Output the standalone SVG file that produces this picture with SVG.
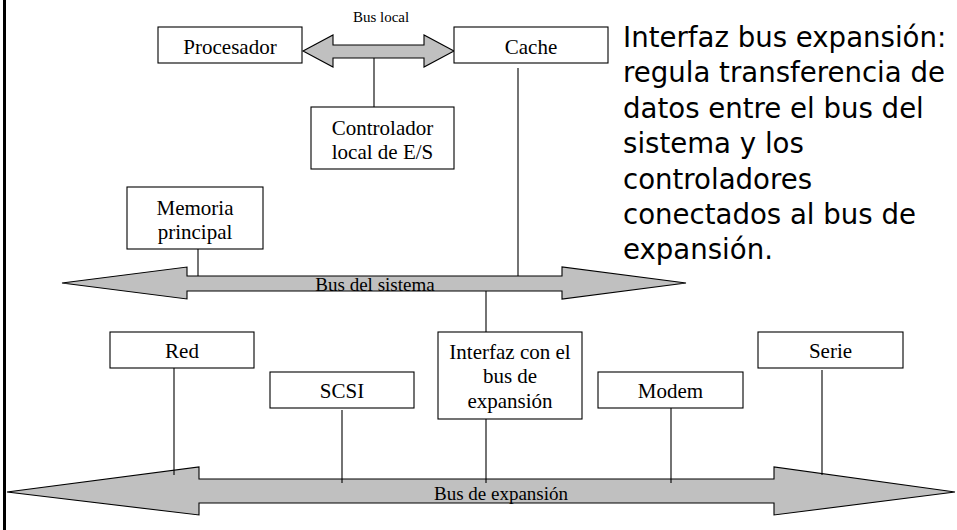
<svg xmlns="http://www.w3.org/2000/svg" width="957" height="530" viewBox="0 0 957 530">
  <style>
    .box { fill: #ffffff; stroke: #000000; stroke-width: 1.1; }
    .bus { fill: #c0c0c0; stroke: #000000; stroke-width: 1.1; stroke-linejoin: miter; }
    .wire { stroke: #000000; stroke-width: 1.1; fill: none; }
    .lbl { font-family: "Liberation Serif", "Times New Roman", serif; font-size: 21px; fill: #000000; text-anchor: middle; }
    .buslbl { font-family: "Liberation Serif", "Times New Roman", serif; font-size: 19px; fill: #000000; text-anchor: middle; }
    .note { font-family: "DejaVu Sans", Verdana, sans-serif; font-size: 27.6px; fill: #000000; }
  </style>

  <rect width="957" height="530" fill="#ffffff"/>
  <!-- frame edge on the left -->
  <rect x="3" y="0" width="3" height="530" fill="#000000"/>

  <!-- buses -->
  <g id="bus-local">
    <polygon class="bus" points="303,51 333,35 333,45 424,45 424,35 454,51 424,67 424,58 333,58 333,67"/>
    <text x="381" y="22" font-family="Liberation Serif, Times New Roman, serif" font-size="15" text-anchor="middle">Bus local</text>
  </g>
  <g id="bus-sistema">
    <polygon class="bus" points="62,283 187,267 187,276 562,276 562,267 686,283 562,299 562,291 187,291 187,299"/>
    <text class="buslbl" x="375" y="291">Bus del sistema</text>
  </g>
  <g id="bus-expansion">
    <polygon class="bus" points="7,492 199,467 199,479 774,479 774,467 955,492 774,515 774,503 199,503 199,515"/>
    <text class="buslbl" x="501" y="500">Bus de expansión</text>
  </g>

  <!-- connectors -->
  <g id="connectors">
    <line class="wire" x1="374" y1="58" x2="374" y2="107"/>
    <line class="wire" x1="518" y1="68" x2="518" y2="276"/>
    <line class="wire" x1="198" y1="249" x2="198" y2="276"/>
    <line class="wire" x1="486" y1="291" x2="486" y2="332"/>
    <line class="wire" x1="486" y1="419" x2="486" y2="483"/>
    <line class="wire" x1="174" y1="368" x2="174" y2="475"/>
    <line class="wire" x1="342" y1="410" x2="342" y2="483"/>
    <line class="wire" x1="671" y1="408" x2="671" y2="483"/>
    <line class="wire" x1="822" y1="370" x2="822" y2="475"/>
  </g>

  <!-- nodes -->
  <g id="procesador">
    <rect class="box" x="158" y="27" width="144" height="36"/>
    <text class="lbl" x="230" y="54">Procesador</text>
  </g>
  <g id="cache">
    <rect class="box" x="454" y="27" width="154" height="36"/>
    <text class="lbl" x="531" y="54">Cache</text>
  </g>
  <g id="controlador">
    <rect class="box" x="311" y="107" width="143" height="62"/>
    <text class="lbl" x="382.5" y="135">Controlador</text>
    <text class="lbl" x="382.5" y="159">local de E/S</text>
  </g>
  <g id="memoria">
    <rect class="box" x="127" y="187" width="136" height="62"/>
    <text class="lbl" x="195" y="215">Memoria</text>
    <text class="lbl" x="195" y="239">principal</text>
  </g>
  <g id="red">
    <rect class="box" x="110" y="332" width="144" height="36"/>
    <text class="lbl" x="182" y="358">Red</text>
  </g>
  <g id="scsi">
    <rect class="box" x="270" y="372" width="144" height="36"/>
    <text class="lbl" x="342" y="398">SCSI</text>
  </g>
  <g id="interfaz">
    <rect class="box" x="438" y="332" width="144" height="87"/>
    <text class="lbl" x="510" y="358.5">Interfaz con el</text>
    <text class="lbl" x="510" y="383">bus de</text>
    <text class="lbl" x="510" y="407.5">expansión</text>
  </g>
  <g id="modem">
    <rect class="box" x="598" y="372" width="145" height="36"/>
    <text class="lbl" x="670.5" y="398">Modem</text>
  </g>
  <g id="serie">
    <rect class="box" x="758" y="332" width="145" height="36"/>
    <text class="lbl" x="830.5" y="358">Serie</text>
  </g>

  <!-- explanatory note -->
  <g id="nota">
    <text class="note" x="623">
      <tspan x="623" y="47">Interfaz bus expansión:</tspan>
      <tspan x="623" y="82.4">regula transferencia de</tspan>
      <tspan x="623" y="117.8">datos entre el bus del</tspan>
      <tspan x="623" y="153.2">sistema y los</tspan>
      <tspan x="623" y="188.6">controladores</tspan>
      <tspan x="623" y="224">conectados al bus de</tspan>
      <tspan x="623" y="259.4">expansión.</tspan>
    </text>
  </g>
</svg>
